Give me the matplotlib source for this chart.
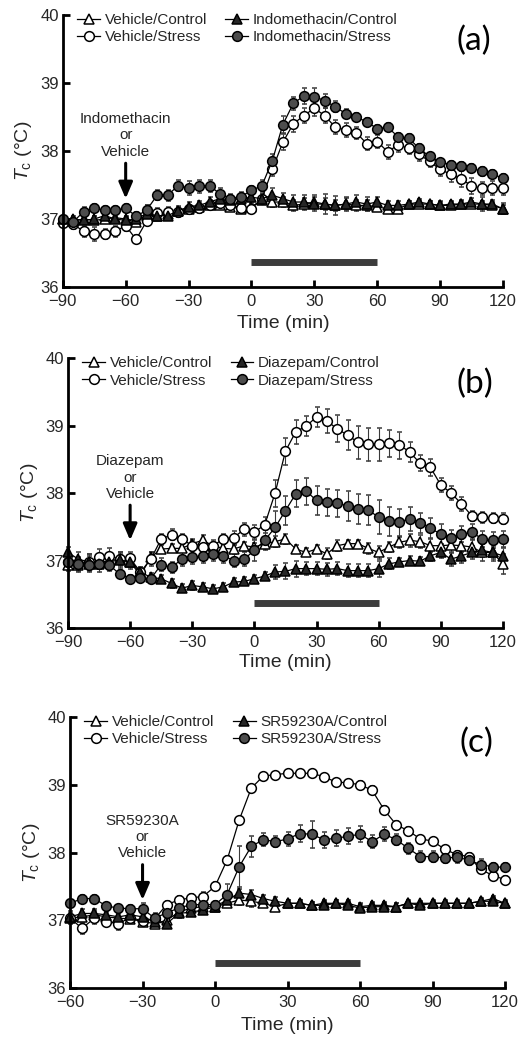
import matplotlib
matplotlib.use('Agg')
import matplotlib.pyplot as plt

plt.rcParams['font.family'] = ['Liberation Sans', 'DejaVu Sans']
plt.rcParams['mathtext.fontset'] = 'custom'
plt.rcParams['mathtext.rm'] = 'Liberation Sans'
plt.rcParams['mathtext.it'] = 'Liberation Sans:italic'

# --- data (Tc in deg C, every 5 min) ---
time_ab = list(range(-90, 125, 5))
time_c = list(range(-60, 125, 5))

a_labels = ['Vehicle/Control', 'Vehicle/Stress', 'Indomethacin/Control', 'Indomethacin/Stress']
a_veh_ctrl = [37.00, 36.97, 37.00, 36.98, 37.00, 37.02, 37.00, 36.95, 37.05, 37.05,
              37.08, 37.12, 37.15, 37.17, 37.20, 37.20, 37.18, 37.15, 37.18, 37.28,
              37.25, 37.25, 37.20, 37.22, 37.25, 37.22, 37.20, 37.22, 37.20, 37.20,
              37.18, 37.15, 37.15, 37.22, 37.22, 37.22, 37.20, 37.20, 37.22, 37.22,
              37.22, 37.20, 37.15]
a_veh_stress = [36.94, 36.92, 36.82, 36.78, 36.78, 36.82, 36.90, 36.70, 36.97, 37.09,
                37.10, 37.11, 37.14, 37.16, 37.21, 37.23, 37.21, 37.16, 37.15, 37.30,
                37.73, 38.13, 38.40, 38.52, 38.63, 38.52, 38.35, 38.31, 38.27, 38.11,
                38.14, 37.99, 38.09, 38.04, 37.95, 37.85, 37.73, 37.66, 37.59, 37.49,
                37.45, 37.46, 37.45]
a_drug_ctrl = [37.00, 37.00, 36.98, 37.00, 37.05, 37.00, 36.98, 37.00, 37.08, 37.05,
               37.05, 37.12, 37.18, 37.20, 37.25, 37.30, 37.28, 37.30, 37.32, 37.30,
               37.35, 37.30, 37.25, 37.25, 37.22, 37.22, 37.20, 37.22, 37.25, 37.22,
               37.25, 37.20, 37.20, 37.22, 37.25, 37.22, 37.20, 37.22, 37.22, 37.25,
               37.22, 37.22, 37.15]
a_drug_stress = [37.00, 36.96, 37.11, 37.16, 37.13, 37.13, 37.16, 37.04, 37.13, 37.35,
                 37.35, 37.49, 37.46, 37.48, 37.49, 37.37, 37.30, 37.33, 37.42, 37.49,
                 37.86, 38.39, 38.70, 38.81, 38.80, 38.74, 38.65, 38.55, 38.50, 38.43,
                 38.33, 38.35, 38.21, 38.19, 38.04, 37.92, 37.84, 37.80, 37.78, 37.75,
                 37.70, 37.66, 37.60]
a_veh_ctrl_err = [0.04, 0.05, 0.05, 0.06, 0.05, 0.05, 0.05, 0.05, 0.06, 0.06,
                  0.05, 0.06, 0.05, 0.05, 0.05, 0.05, 0.06, 0.05, 0.05, 0.06,
                  0.08, 0.07, 0.08, 0.09, 0.10, 0.09, 0.08, 0.09, 0.08, 0.08,
                  0.06, 0.05, 0.05, 0.05, 0.05, 0.04, 0.05, 0.05, 0.05, 0.05,
                  0.05, 0.05, 0.06]
a_veh_stress_err = [0.04, 0.06, 0.08, 0.10, 0.08, 0.08, 0.07, 0.06, 0.06, 0.07,
                    0.08, 0.08, 0.07, 0.07, 0.07, 0.07, 0.06, 0.06, 0.06, 0.08,
                    0.10, 0.12, 0.12, 0.11, 0.12, 0.11, 0.10, 0.10, 0.09, 0.09,
                    0.10, 0.10, 0.10, 0.09, 0.09, 0.09, 0.10, 0.12, 0.12, 0.12,
                    0.10, 0.10, 0.10]
a_drug_ctrl_err = [0.04, 0.05, 0.05, 0.05, 0.06, 0.05, 0.05, 0.05, 0.12, 0.06,
                   0.06, 0.06, 0.07, 0.07, 0.08, 0.08, 0.07, 0.07, 0.06, 0.07,
                   0.10, 0.09, 0.10, 0.10, 0.10, 0.15, 0.14, 0.10, 0.10, 0.10,
                   0.08, 0.06, 0.06, 0.05, 0.05, 0.05, 0.06, 0.05, 0.06, 0.06,
                   0.10, 0.06, 0.08]
a_drug_stress_err = [0.04, 0.05, 0.06, 0.06, 0.06, 0.06, 0.06, 0.06, 0.07, 0.07,
                     0.08, 0.08, 0.10, 0.09, 0.09, 0.08, 0.07, 0.07, 0.07, 0.08,
                     0.10, 0.12, 0.10, 0.12, 0.13, 0.10, 0.08, 0.07, 0.06, 0.06,
                     0.06, 0.06, 0.06, 0.06, 0.06, 0.05, 0.05, 0.05, 0.06, 0.06,
                     0.06, 0.06, 0.06]

b_labels = ['Vehicle/Control', 'Vehicle/Stress', 'Diazepam/Control', 'Diazepam/Stress']
b_veh_ctrl = [36.93, 36.93, 36.95, 36.97, 37.00, 37.02, 36.98, 36.78, 37.05, 37.17,
              37.18, 37.18, 37.25, 37.30, 37.22, 37.18, 37.17, 37.22, 37.20, 37.25,
              37.28, 37.32, 37.17, 37.12, 37.17, 37.10, 37.22, 37.25, 37.25, 37.18,
              37.12, 37.20, 37.27, 37.30, 37.28, 37.22, 37.22, 37.23, 37.22, 37.20,
              37.12, 37.12, 36.95]
b_veh_stress = [36.98, 36.95, 36.98, 37.05, 37.07, 37.02, 37.03, 36.83, 37.02, 37.32,
                37.38, 37.32, 37.22, 37.20, 37.22, 37.32, 37.34, 37.46, 37.42, 37.53,
                38.00, 38.62, 38.91, 38.99, 39.13, 39.07, 38.95, 38.86, 38.75, 38.72,
                38.72, 38.74, 38.71, 38.61, 38.44, 38.38, 38.12, 38.00, 37.84, 37.66,
                37.64, 37.63, 37.62]
b_drug_ctrl = [37.12, 37.02, 36.98, 36.95, 36.98, 37.01, 36.98, 36.83, 36.75, 36.73,
               36.66, 36.59, 36.63, 36.61, 36.58, 36.61, 36.68, 36.69, 36.73, 36.77,
               36.83, 36.84, 36.88, 36.88, 36.88, 36.87, 36.88, 36.85, 36.85, 36.85,
               36.88, 36.95, 36.98, 37.00, 36.99, 37.07, 37.12, 37.02, 37.07, 37.12,
               37.15, 37.12, 37.07]
b_drug_stress = [36.98, 36.95, 36.93, 36.95, 36.93, 36.80, 36.73, 36.74, 36.73, 36.94,
                 36.90, 37.02, 37.05, 37.07, 37.10, 37.07, 37.00, 37.02, 37.15, 37.30,
                 37.49, 37.74, 37.99, 38.03, 37.89, 37.86, 37.85, 37.81, 37.76, 37.75,
                 37.64, 37.58, 37.57, 37.62, 37.56, 37.48, 37.39, 37.33, 37.39, 37.42,
                 37.32, 37.30, 37.32]
b_veh_ctrl_err = [0.08, 0.10, 0.12, 0.10, 0.10, 0.08, 0.08, 0.06, 0.08, 0.06,
                  0.06, 0.06, 0.07, 0.08, 0.06, 0.06, 0.06, 0.06, 0.06, 0.06,
                  0.08, 0.08, 0.06, 0.06, 0.06, 0.08, 0.08, 0.06, 0.06, 0.08,
                  0.10, 0.08, 0.08, 0.10, 0.10, 0.10, 0.10, 0.12, 0.10, 0.12,
                  0.12, 0.12, 0.15]
b_veh_stress_err = [0.10, 0.10, 0.12, 0.12, 0.12, 0.10, 0.10, 0.08, 0.10, 0.08,
                    0.08, 0.08, 0.08, 0.08, 0.08, 0.08, 0.10, 0.10, 0.10, 0.12,
                    0.20, 0.20, 0.18, 0.15, 0.15, 0.18, 0.20, 0.22, 0.25, 0.25,
                    0.25, 0.20, 0.20, 0.15, 0.12, 0.12, 0.10, 0.10, 0.10, 0.08,
                    0.08, 0.08, 0.08]
b_drug_ctrl_err = [0.08, 0.10, 0.12, 0.12, 0.10, 0.12, 0.10, 0.08, 0.06, 0.06,
                   0.06, 0.06, 0.06, 0.06, 0.05, 0.05, 0.06, 0.06, 0.06, 0.06,
                   0.10, 0.12, 0.12, 0.10, 0.10, 0.10, 0.10, 0.10, 0.10, 0.10,
                   0.12, 0.08, 0.06, 0.06, 0.06, 0.08, 0.08, 0.10, 0.10, 0.10,
                   0.10, 0.10, 0.12]
b_drug_stress_err = [0.08, 0.08, 0.08, 0.08, 0.08, 0.06, 0.06, 0.06, 0.06, 0.10,
                     0.08, 0.10, 0.10, 0.10, 0.10, 0.10, 0.10, 0.10, 0.15, 0.15,
                     0.25, 0.22, 0.20, 0.20, 0.22, 0.20, 0.20, 0.22, 0.22, 0.22,
                     0.25, 0.22, 0.20, 0.18, 0.15, 0.15, 0.15, 0.12, 0.12, 0.12,
                     0.12, 0.12, 0.12]

c_labels = ['Vehicle/Control', 'Vehicle/Stress', 'SR59230A/Control', 'SR59230A/Stress']
c_veh_ctrl = [37.03, 37.05, 37.08, 37.05, 37.03, 37.02, 36.98, 36.95, 37.00, 37.12,
              37.18, 37.20, 37.20, 37.25, 37.30, 37.28, 37.25, 37.20, 37.25, 37.25,
              37.22, 37.25, 37.25, 37.25, 37.20, 37.22, 37.22, 37.20, 37.25, 37.25,
              37.25, 37.25, 37.25, 37.25, 37.28, 37.32, 37.25]
c_veh_stress = [37.03, 36.88, 37.03, 36.98, 36.95, 37.04, 36.99, 37.02, 37.23, 37.30,
                37.33, 37.35, 37.50, 37.89, 38.48, 38.95, 39.13, 39.15, 39.17, 39.17,
                39.17, 39.12, 39.04, 39.03, 39.00, 38.92, 38.63, 38.41, 38.32, 38.20,
                38.17, 38.05, 37.97, 37.94, 37.75, 37.66, 37.60]
c_drug_ctrl = [37.05, 37.10, 37.10, 37.08, 37.05, 37.08, 37.05, 36.98, 36.95, 37.10,
               37.12, 37.15, 37.20, 37.30, 37.40, 37.38, 37.32, 37.28, 37.25, 37.25,
               37.22, 37.22, 37.25, 37.22, 37.18, 37.20, 37.20, 37.20, 37.25, 37.22,
               37.25, 37.25, 37.25, 37.25, 37.28, 37.28, 37.25]
c_drug_stress = [37.25, 37.32, 37.32, 37.21, 37.18, 37.17, 37.17, 37.03, 37.11, 37.18,
                 37.23, 37.23, 37.23, 37.38, 37.79, 38.09, 38.19, 38.16, 38.20, 38.28,
                 38.27, 38.19, 38.21, 38.24, 38.27, 38.16, 38.27, 38.19, 38.06, 37.94,
                 37.94, 37.92, 37.93, 37.89, 37.82, 37.79, 37.78]
c_veh_ctrl_err = [0.05, 0.06, 0.05, 0.05, 0.05, 0.05, 0.05, 0.06, 0.05, 0.05,
                  0.05, 0.05, 0.05, 0.06, 0.08, 0.08, 0.06, 0.06, 0.05, 0.05,
                  0.05, 0.05, 0.05, 0.05, 0.05, 0.05, 0.05, 0.05, 0.04, 0.04,
                  0.04, 0.04, 0.04, 0.04, 0.04, 0.04, 0.04]
c_veh_stress_err = [0.08, 0.08, 0.08, 0.06, 0.10, 0.08, 0.08, 0.06, 0.06, 0.06,
                    0.06, 0.06, 0.06, 0.06, 0.05, 0.05, 0.04, 0.04, 0.04, 0.04,
                    0.04, 0.04, 0.04, 0.04, 0.06, 0.06, 0.05, 0.05, 0.05, 0.05,
                    0.05, 0.05, 0.05, 0.05, 0.05, 0.05, 0.05]
c_drug_ctrl_err = [0.08, 0.06, 0.06, 0.06, 0.06, 0.06, 0.08, 0.06, 0.06, 0.06,
                   0.06, 0.06, 0.06, 0.06, 0.06, 0.06, 0.06, 0.06, 0.05, 0.05,
                   0.05, 0.06, 0.05, 0.05, 0.06, 0.05, 0.06, 0.05, 0.05, 0.05,
                   0.05, 0.05, 0.05, 0.05, 0.05, 0.05, 0.05]
c_drug_stress_err = [0.05, 0.05, 0.05, 0.05, 0.05, 0.05, 0.08, 0.08, 0.06, 0.06,
                     0.06, 0.06, 0.06, 0.15, 0.30, 0.15, 0.10, 0.08, 0.10, 0.12,
                     0.20, 0.12, 0.12, 0.12, 0.12, 0.10, 0.10, 0.08, 0.08, 0.08,
                     0.08, 0.08, 0.08, 0.08, 0.08, 0.06, 0.06]

drug_names = ['Indomethacin', 'Diazepam', 'SR59230A']
injection_times = [-60, -60, -30]
stress_window = [0, 60]
panel_tags = ['(a)', '(b)', '(c)']

# marker styles in legend order
styles = [
    dict(marker='^', mfc='white'),
    dict(marker='o', mfc='white'),
    dict(marker='^', mfc='#262626'),
    dict(marker='o', mfc='#4d4d4d'),
]

TXT = '#262626'


def draw_panel(ax, t, series, errors, labels, xlim, drug, inj_t, tag, xpad):
    handles = []
    for vals, errs, st, lab in zip(series, errors, styles, labels):
        cont = ax.errorbar(t, vals, yerr=errs, color='black', lw=0.9, ecolor='#3a3a3a',
                           elinewidth=0.8, capsize=1.8, capthick=0.8,
                           marker=st['marker'], mfc=st['mfc'], mec='black', ms=7,
                           mew=1.1, clip_on=False)
        handles.append(cont[0])

    # stress period bar
    ax.plot(stress_window, [36.37, 36.37], color='#3c3c3c', lw=5, solid_capstyle='butt')

    # injection arrow + text
    ax.annotate('', xy=(inj_t, 37.3), xytext=(inj_t, 37.82),
                arrowprops=dict(arrowstyle='-|>,head_width=0.3,head_length=0.7',
                                lw=2.2, color='black', mutation_scale=14,
                                shrinkA=0, shrinkB=0))
    ax.text(inj_t, 38.23, drug + '\nor\nVehicle', ha='center', va='center',
            fontsize=11, color=TXT, linespacing=1.2)

    ticks = list(range(xlim[0], xlim[1] + 1, 30))
    ax.set_xlim(xlim)
    ax.set_ylim(36, 40)
    ax.set_xticks(ticks)
    ax.set_xticklabels([str(v).replace('-', '\u2212') for v in ticks])
    ax.set_yticks([36, 37, 38, 39, 40])
    ax.set_xlabel('Time (min)', fontsize=14, color=TXT, labelpad=xpad)
    ax.set_ylabel(r'$T_\mathrm{c}$ (°C)', fontsize=14, color=TXT, labelpad=4)

    for side in ['top', 'right']:
        ax.spines[side].set_visible(False)
    for side in ['left', 'bottom']:
        ax.spines[side].set_linewidth(2)
    ax.tick_params(direction='in', length=5, width=2, labelsize=12, labelcolor=TXT)
    ax.tick_params(axis='x', pad=5)
    ax.tick_params(axis='y', pad=3)

    ax.legend(handles, labels, loc='upper left', bbox_to_anchor=(0.012, 1.04), ncol=2,
              frameon=False, fontsize=11, handlelength=1.5, handletextpad=0.3,
              columnspacing=1.2, labelspacing=0.2, borderaxespad=0.2, labelcolor=TXT)

    ax.text(0.935, 0.905, tag, transform=ax.transAxes, ha='center', va='center',
            fontsize=24, family='Lato', color='black')


fig = plt.figure(figsize=(5.19, 10.38), dpi=100)
ax_a = fig.add_axes([0.121, 0.7235, 0.848, 0.262])
ax_b = fig.add_axes([0.131, 0.395, 0.838, 0.260])
ax_c = fig.add_axes([0.135, 0.0482, 0.838, 0.261])

draw_panel(ax_a, time_ab, [a_veh_ctrl, a_veh_stress, a_drug_ctrl, a_drug_stress],
           [a_veh_ctrl_err, a_veh_stress_err, a_drug_ctrl_err, a_drug_stress_err],
           a_labels, (-90, 120), drug_names[0], injection_times[0], panel_tags[0], 4)
draw_panel(ax_b, time_ab, [b_veh_ctrl, b_veh_stress, b_drug_ctrl, b_drug_stress],
           [b_veh_ctrl_err, b_veh_stress_err, b_drug_ctrl_err, b_drug_stress_err],
           b_labels, (-90, 120), drug_names[1], injection_times[1], panel_tags[1], 3)
draw_panel(ax_c, time_c, [c_veh_ctrl, c_veh_stress, c_drug_ctrl, c_drug_stress],
           [c_veh_ctrl_err, c_veh_stress_err, c_drug_ctrl_err, c_drug_stress_err],
           c_labels, (-60, 120), drug_names[2], injection_times[2], panel_tags[2], 5)

fig.savefig('out.png', dpi=100)
